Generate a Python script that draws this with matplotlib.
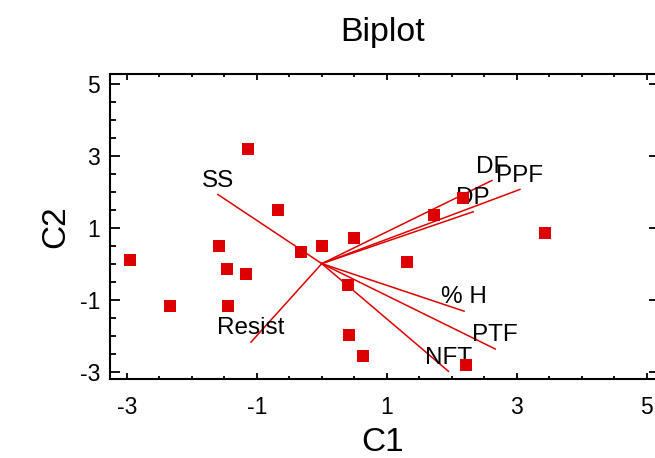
import matplotlib.pyplot as plt
from matplotlib.ticker import MultipleLocator

plt.rcParams['font.family'] = ['Liberation Sans', 'DejaVu Sans']
plt.rcParams['axes.unicode_minus'] = False

# observation scores
c1 = [-2.96, -2.34, -1.575, -1.46, -1.44, -1.17, -1.14, -0.67, -0.32, 0.0,
      0.50, 0.40, 0.42, 0.64, 1.31, 1.73, 2.18, 2.22, 3.44]
c2 = [0.09, -1.17, 0.48, -0.15, -1.17, -0.30, 3.17, 1.48, 0.32, 0.48,
      0.72, -0.58, -1.99, -2.57, 0.05, 1.34, 1.83, -2.81, 0.85]

# variable loadings
var_names = ['SS', 'Resist', 'DF', 'PPF', 'DP', '% H', 'PTF', 'NFT']
load_c1 = [-1.60, -1.09, 2.62, 3.05, 2.33, 2.19, 2.67, 1.95]
load_c2 = [1.92, -2.18, 2.31, 2.06, 1.44, -1.32, -2.37, -2.99]

red = '#dd0000'

fig = plt.figure(figsize=(6.55, 4.58), dpi=100)
ax = fig.add_axes([0.168, 0.172, 0.832, 0.666])

for name, lx, ly in zip(var_names, load_c1, load_c2):
    ax.plot([0, lx], [0, ly], color=red, lw=1.1)
    ax.annotate(name, (lx, ly), xytext=(0, 2), textcoords='offset points',
                ha='center', va='bottom', fontsize=17.5)

ax.plot(c1, c2, 's', color=red, markersize=8.6, markeredgewidth=0, zorder=3)

ax.set_xlim(-3.26, 5.13)
ax.set_ylim(-3.21, 5.26)
ax.set_xticks([-3, -1, 1, 3, 5])
ax.set_yticks([-3, -1, 1, 3, 5])
ax.xaxis.set_minor_locator(MultipleLocator(0.5))
ax.yaxis.set_minor_locator(MultipleLocator(0.5))

ax.tick_params(axis='x', which='both', direction='in', top=True,
               labelsize=16.5, pad=12, width=1.3)
ax.tick_params(axis='x', which='major', length=4)
ax.tick_params(axis='x', which='minor', length=2.5)
ax.tick_params(axis='y', which='both', direction='in', right=False,
               labelsize=16.5, pad=7, width=1.3)
ax.tick_params(axis='y', which='major', length=7.5)
ax.tick_params(axis='y', which='minor', length=4)

right = ax.secondary_yaxis('right')
right.set_yticks([-3, -1, 1, 3, 5])
right.tick_params(direction='in', length=4, width=1.3, labelright=False)
right.spines['right'].set_visible(False)

for sp in ax.spines.values():
    sp.set_linewidth(1.5)
ax.spines['right'].set_visible(False)

ax.set_xlabel('C1', fontsize=24, labelpad=6)
ax.set_ylabel('C2', fontsize=24, labelpad=6)
ax.set_title('Biplot', fontsize=24.5, pad=24)

fig.savefig('out.png', dpi=100)
